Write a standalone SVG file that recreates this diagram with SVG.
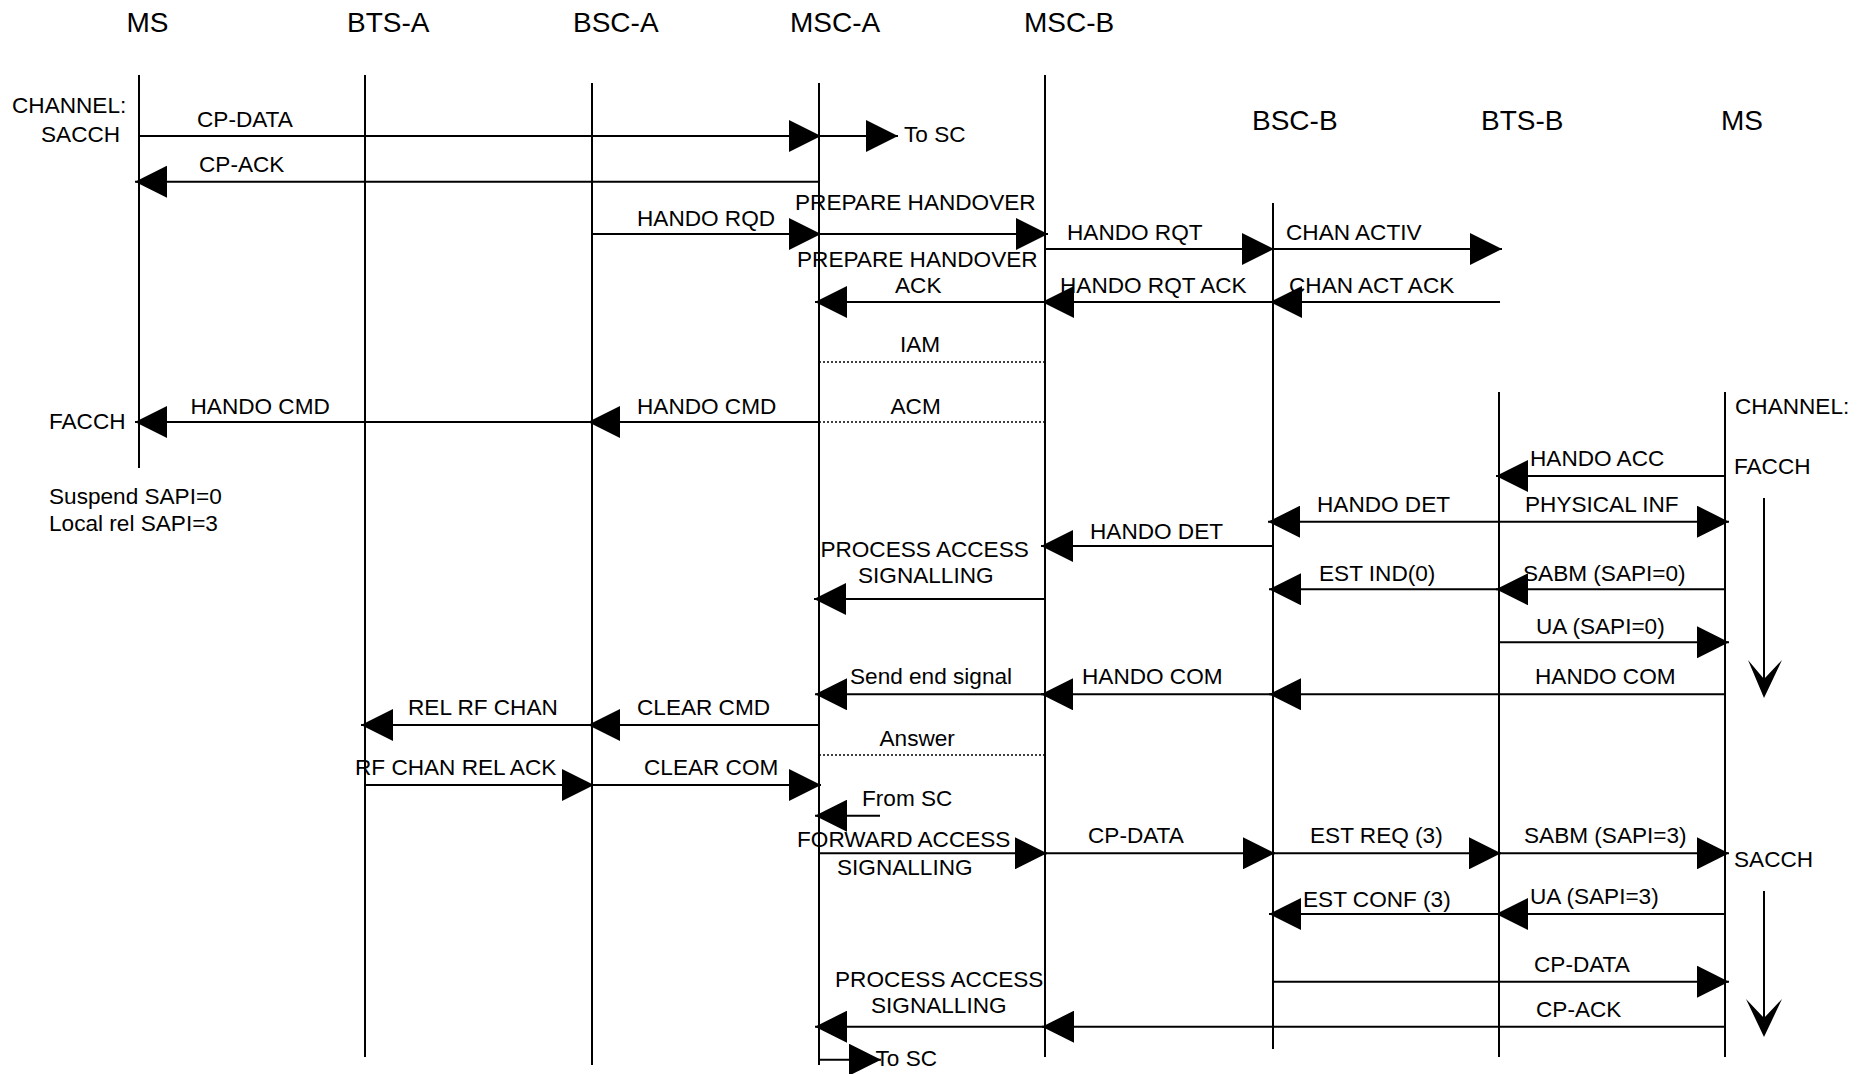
<svg xmlns="http://www.w3.org/2000/svg" width="1867" height="1074" viewBox="0 0 1867 1074">
<style>
text{font-family:"Liberation Sans",Arial,sans-serif;font-size:22.6px;fill:#000}
.hd{font-size:28px}
.life{stroke:#000;stroke-width:2;fill:none}
.msg{stroke:#000;stroke-width:2;fill:none;marker-end:url(#ah)}
.dot{stroke:#000;stroke-width:1.5;fill:none;stroke-dasharray:2 2}
.vv{fill:#000}
</style>
<defs>
<marker id="ah" markerUnits="userSpaceOnUse" markerWidth="32" markerHeight="32" viewBox="0 0 32 32" refX="32" refY="16" orient="auto">
<path d="M0,0 L32,16 L0,32 z" fill="#000"/>
</marker>
</defs>
<rect width="1867" height="1074" fill="#fff"/>
<g id="node-ms-a"><text class="hd" x="126.5" y="32">MS</text><line class="life" x1="139" y1="75" x2="139" y2="468"/></g>
<g id="node-bts-a"><text class="hd" x="347" y="32">BTS-A</text><line class="life" x1="365" y1="75" x2="365" y2="1057"/></g>
<g id="node-bsc-a"><text class="hd" x="573" y="32">BSC-A</text><line class="life" x1="592" y1="83" x2="592" y2="1065"/></g>
<g id="node-msc-a"><text class="hd" x="790" y="32">MSC-A</text><line class="life" x1="819" y1="83" x2="819" y2="1065"/></g>
<g id="node-msc-b"><text class="hd" x="1024" y="32">MSC-B</text><line class="life" x1="1045" y1="75" x2="1045" y2="1057"/></g>
<g id="node-bsc-b"><text class="hd" x="1252" y="130">BSC-B</text><line class="life" x1="1273" y1="203" x2="1273" y2="1049"/></g>
<g id="node-bts-b"><text class="hd" x="1481" y="130">BTS-B</text><line class="life" x1="1499" y1="392" x2="1499" y2="1057"/></g>
<g id="node-ms-b"><text class="hd" x="1721" y="130">MS</text><line class="life" x1="1725" y1="392" x2="1725" y2="1057"/></g>
<g id="connectors">
<line class="msg" x1="139" y1="136" x2="821" y2="136"/>
<line class="msg" x1="819" y1="136" x2="898" y2="136"/>
<line class="msg" x1="819" y1="181.7" x2="135" y2="181.7"/>
<line class="msg" x1="592" y1="234" x2="821" y2="234"/>
<line class="msg" x1="819" y1="234" x2="1048" y2="234"/>
<line class="msg" x1="1045" y1="249" x2="1274" y2="249"/>
<line class="msg" x1="1273" y1="249" x2="1502" y2="249"/>
<line class="msg" x1="1045" y1="302" x2="815" y2="302"/>
<line class="msg" x1="1273" y1="302" x2="1042" y2="302"/>
<line class="msg" x1="1500" y1="302" x2="1270" y2="302"/>
<line class="dot" x1="819" y1="362" x2="1045" y2="362"/>
<line class="dot" x1="819" y1="422" x2="1045" y2="422"/>
<line class="msg" x1="819" y1="422" x2="588" y2="422"/>
<line class="msg" x1="592" y1="422" x2="135" y2="422"/>
<line class="msg" x1="1725" y1="476" x2="1496" y2="476"/>
<line class="msg" x1="1499" y1="521.7" x2="1729" y2="521.7"/>
<line class="msg" x1="1499" y1="521.7" x2="1268" y2="521.7"/>
<line class="msg" x1="1273" y1="546" x2="1041" y2="546"/>
<line class="msg" x1="1499" y1="589.3" x2="1269" y2="589.3"/>
<line class="msg" x1="1725" y1="589.3" x2="1496" y2="589.3"/>
<line class="msg" x1="1045" y1="599" x2="814" y2="599"/>
<line class="msg" x1="1499" y1="642.3" x2="1729" y2="642.3"/>
<line class="msg" x1="1725" y1="694.3" x2="1269" y2="694.3"/>
<line class="msg" x1="1273" y1="694.3" x2="1041" y2="694.3"/>
<line class="msg" x1="1045" y1="694.3" x2="815" y2="694.3"/>
<line class="msg" x1="819" y1="725" x2="588" y2="725"/>
<line class="msg" x1="592" y1="725" x2="361" y2="725"/>
<line class="dot" x1="819" y1="755" x2="1045" y2="755"/>
<line class="msg" x1="365" y1="785" x2="594" y2="785"/>
<line class="msg" x1="592" y1="785" x2="821" y2="785"/>
<line class="msg" x1="880" y1="815.7" x2="815" y2="815.7"/>
<line class="msg" x1="819" y1="853.3" x2="1047" y2="853.3"/>
<line class="msg" x1="1045" y1="853.3" x2="1275" y2="853.3"/>
<line class="msg" x1="1273" y1="853.3" x2="1501" y2="853.3"/>
<line class="msg" x1="1499" y1="853.3" x2="1729" y2="853.3"/>
<line class="msg" x1="1725" y1="914" x2="1496" y2="914"/>
<line class="msg" x1="1499" y1="914" x2="1269" y2="914"/>
<line class="msg" x1="1273" y1="981.7" x2="1729" y2="981.7"/>
<line class="msg" x1="1725" y1="1026.7" x2="1042" y2="1026.7"/>
<line class="msg" x1="1045" y1="1026.7" x2="815" y2="1026.7"/>
<line class="msg" x1="819" y1="1059.7" x2="881" y2="1059.7"/>
<line class="life" x1="1764" y1="498" x2="1764" y2="690"/>
<polygon class="vv" points="1748,660 1764,679 1782,660 1764,698"/>
<line class="life" x1="1764" y1="891" x2="1764" y2="1030"/>
<polygon class="vv" points="1746,999 1764,1018 1782,999 1764,1037"/>
</g>
<g id="labels">
<text x="12" y="113">CHANNEL:</text>
<text x="41" y="141.7">SACCH</text>
<text x="197" y="127.3">CP-DATA</text>
<text x="199" y="171.7">CP-ACK</text>
<text x="904" y="142">To SC</text>
<text x="637" y="225.7">HANDO RQD</text>
<text x="795" y="210">PREPARE HANDOVER</text>
<text x="1067" y="240">HANDO RQT</text>
<text x="1286" y="240">CHAN ACTIV</text>
<text x="797" y="266.7">PREPARE HANDOVER</text>
<text x="895" y="293.3">ACK</text>
<text x="1060" y="293.3">HANDO RQT ACK</text>
<text x="1289" y="293.3">CHAN ACT ACK</text>
<text x="900" y="352">IAM</text>
<text x="890.5" y="414">ACM</text>
<text x="637" y="414">HANDO CMD</text>
<text x="190.5" y="414">HANDO CMD</text>
<text x="49" y="429">FACCH</text>
<text x="49" y="504">Suspend SAPI=0</text>
<text x="49" y="530.7">Local rel SAPI=3</text>
<text x="1735" y="414">CHANNEL:</text>
<text x="1734" y="474">FACCH</text>
<text x="1530" y="466">HANDO ACC</text>
<text x="1525" y="512.3">PHYSICAL INF</text>
<text x="1317" y="512.3">HANDO DET</text>
<text x="1090" y="539">HANDO DET</text>
<text x="820.4" y="556.7">PROCESS ACCESS</text>
<text x="858" y="583.3">SIGNALLING</text>
<text x="1319" y="580.7">EST IND(0)</text>
<text x="1523" y="580.7">SABM (SAPI=0)</text>
<text x="1536" y="634">UA (SAPI=0)</text>
<text x="1535" y="684">HANDO COM</text>
<text x="1082" y="684">HANDO COM</text>
<text x="850" y="684">Send end signal</text>
<text x="637" y="715">CLEAR CMD</text>
<text x="408" y="715">REL RF CHAN</text>
<text x="879.5" y="745.7">Answer</text>
<text x="355" y="775">RF CHAN REL ACK</text>
<text x="644" y="775">CLEAR COM</text>
<text x="862" y="805.7">From SC</text>
<text x="797" y="847.3">FORWARD ACCESS</text>
<text x="837" y="874.7">SIGNALLING</text>
<text x="1088" y="843.3">CP-DATA</text>
<text x="1310" y="843.3">EST REQ (3)</text>
<text x="1524" y="843.3">SABM (SAPI=3)</text>
<text x="1734" y="866.7">SACCH</text>
<text x="1530" y="904">UA (SAPI=3)</text>
<text x="1303" y="907.3">EST CONF (3)</text>
<text x="1534" y="972.3">CP-DATA</text>
<text x="1536" y="1016.7">CP-ACK</text>
<text x="835" y="986.7">PROCESS ACCESS</text>
<text x="871" y="1013.3">SIGNALLING</text>
<text x="875.5" y="1065.7">To SC</text>
</g>
</svg>
